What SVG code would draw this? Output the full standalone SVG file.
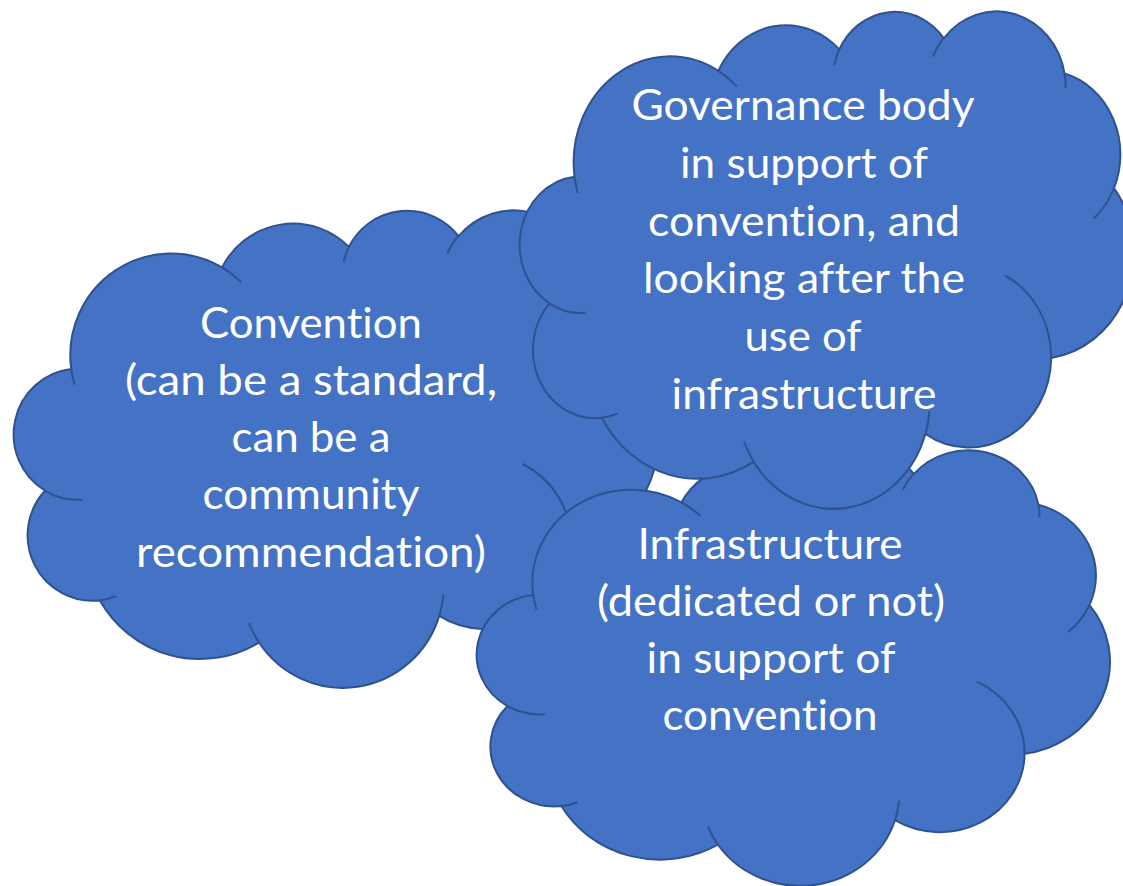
<svg xmlns="http://www.w3.org/2000/svg" xmlns:xlink="http://www.w3.org/1999/xlink" width="1123" height="886" viewBox="0 0 1123 886">
<style>
.fill{fill:#4472C4;stroke:#2F528F;stroke-width:2;vector-effect:non-scaling-stroke;stroke-linejoin:round}
.inner{fill:none;stroke:#2F528F;stroke-width:2;vector-effect:non-scaling-stroke}
.t{font-family:Lato,"Open Sans",sans-serif;font-size:42px;fill:#FFFFFF;text-anchor:middle;font-variant-ligatures:none;font-feature-settings:"liga" 0,"clig" 0}
</style>
<defs>
<path id="cloudOutline" class="fill" d="M3900,14370 A6753,9190 0 0 1 14000,5192 A5333,7267 0 0 1 22500,3331 A4365,5945 0 0 1 29840,2370 A4857,6595 0 0 1 38324,5426 A5333,7273 0 0 1 41798,15354 A6775,9220 0 0 1 37382,30094 A5785,7867 0 0 1 28546,36680 A6752,9215 0 0 1 16478,39090 A7720,10543 0 0 1 5819,35281 A4360,5918 0 0 1 2145,25370 A4345,5945 0 0 1 3900,14370 Z"/>
<path id="cloudInner" class="inner" d="M4693,26177 A4345,5945 0 0 1 2160,25380 M6928,34899 A4360,5918 0 0 1 5819,35281 M16478,39090 A6752,9215 0 0 1 15809,37347 M28827,34751 A6752,9215 0 0 1 28560,36660 M34129,22954 A5785,7867 0 0 1 37381,30090 M41798,15354 A5333,7273 0 0 1 40350,18030 M38324,5426 A4857,6595 0 0 1 38400,6689 M29078,3952 A4857,6595 0 0 1 29819,2340 M22141,4720 A4365,5945 0 0 1 22500,3331 M14000,5192 A6753,9190 0 0 1 15300,6541 M4127,15789 A6753,9190 0 0 1 3900,14370"/>
</defs>
<g id="connectors"></g>
<g id="convention">
<g transform="translate(13,210) scale(0.014931,0.011065)">
<use xlink:href="#cloudOutline" href="#cloudOutline"/>
<use xlink:href="#cloudInner" href="#cloudInner"/>
</g>
<text class="t" x="311" y="338" textLength="222" lengthAdjust="spacingAndGlyphs">Convention</text>
<text class="t" x="311" y="395" textLength="372" lengthAdjust="spacingAndGlyphs">(can be a standard,</text>
<text class="t" x="311" y="452" textLength="159" lengthAdjust="spacingAndGlyphs">can be a</text>
<text class="t" x="311" y="509" textLength="217" lengthAdjust="spacingAndGlyphs">community</text>
<text class="t" x="311" y="567" textLength="350" lengthAdjust="spacingAndGlyphs">recommendation)</text>
</g>
<g id="infrastructure">
<g transform="translate(476,450) scale(0.014676,0.010093)">
<use xlink:href="#cloudOutline" href="#cloudOutline"/>
<use xlink:href="#cloudInner" href="#cloudInner"/>
</g>
<text class="t" x="770" y="559" textLength="265" lengthAdjust="spacingAndGlyphs">Infrastructure</text>
<text class="t" x="771" y="616" textLength="348" lengthAdjust="spacingAndGlyphs">(dedicated or not)</text>
<text class="t" x="771" y="673" textLength="249" lengthAdjust="spacingAndGlyphs">in support of</text>
<text class="t" x="770" y="730" textLength="215" lengthAdjust="spacingAndGlyphs">convention</text>
</g>
<g id="governance">
<g transform="translate(519,11) scale(0.014236,0.011528)">
<use xlink:href="#cloudOutline" href="#cloudOutline"/>
<use xlink:href="#cloudInner" href="#cloudInner"/>
</g>
<text class="t" x="803" y="120" textLength="343" lengthAdjust="spacingAndGlyphs">Governance body</text>
<text class="t" x="804" y="178" textLength="248" lengthAdjust="spacingAndGlyphs">in support of</text>
<text class="t" x="804" y="236" textLength="312" lengthAdjust="spacingAndGlyphs">convention, and</text>
<text class="t" x="804" y="293" textLength="322" lengthAdjust="spacingAndGlyphs">looking after the</text>
<text class="t" x="803" y="351" textLength="117" lengthAdjust="spacingAndGlyphs">use of</text>
<text class="t" x="804" y="409" textLength="265" lengthAdjust="spacingAndGlyphs">infrastructure</text>
</g>
</svg>
